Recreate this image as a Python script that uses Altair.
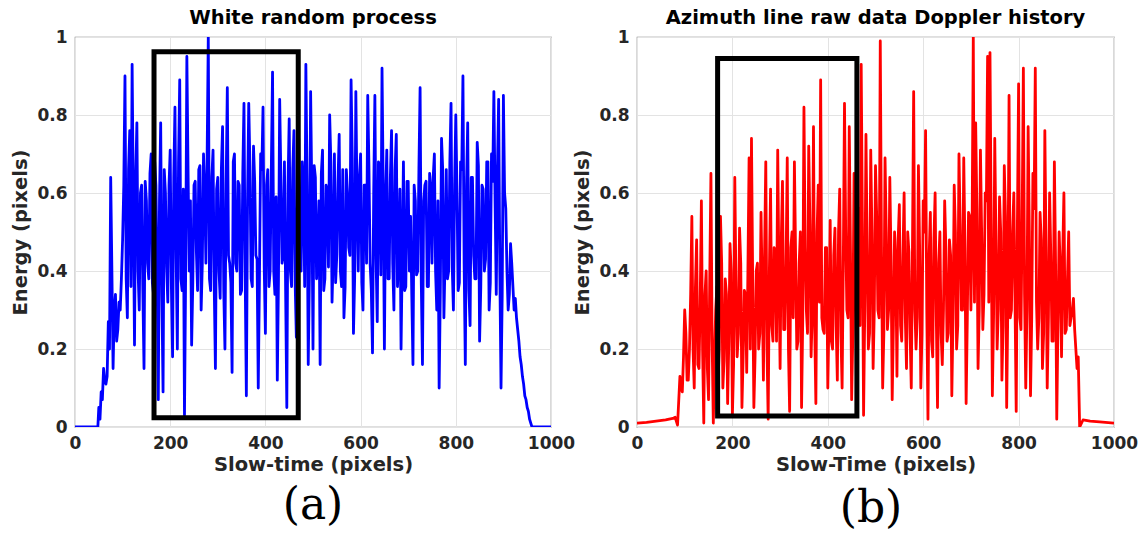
import altair as alt
import pandas as pd

# ---------------- data (hand-estimated from the reference) ----------------
# Panel (a): white random process.
# main samples at slow-time 50, 55, ..., 960
blue_main_x = list(range(50, 961, 5))
blue_main = [
    0.05, 0.09, 0.15, 0.11, 0.27, 0.64, 0.15, 0.34, 0.25, 0.30,
    0.48, 0.90, 0.28, 0.76, 0.93, 0.21, 0.78, 0.30, 0.62, 0.15,
    0.58, 0.38, 0.70, 0.34, 0.62, 0.07, 0.78, 0.09, 0.60, 0.32,
    0.71, 0.18, 0.82, 0.20, 0.89, 0.35, 0.03, 0.95, 0.40, 0.21,
    0.62, 0.45, 0.66, 0.30, 0.70, 0.42, 1.00, 0.35, 0.71, 0.15,
    0.64, 0.33, 0.77, 0.20, 0.87, 0.42, 0.14, 0.70, 0.40, 0.62,
    0.35, 0.83, 0.08, 0.83, 0.38, 0.72, 0.44, 0.10, 0.70, 0.82,
    0.24, 0.66, 0.40, 0.91, 0.34, 0.12, 0.84, 0.42, 0.68, 0.05,
    0.79, 0.36, 0.76, 0.23, 0.74, 0.40, 0.62, 0.93, 0.16, 0.86,
    0.20, 0.64, 0.45, 0.16, 0.71, 0.38, 0.60, 0.80, 0.32, 0.70,
    0.44, 0.75, 0.36, 0.28, 0.66, 0.46, 0.89, 0.24, 0.86, 0.40,
    0.70, 0.30, 0.62, 0.85, 0.42, 0.19, 0.85, 0.27, 0.66, 0.92,
    0.20, 0.71, 0.38, 0.76, 0.30, 0.75, 0.44, 0.20, 0.68, 0.36,
    0.63, 0.54, 0.16, 0.58, 0.40, 0.87, 0.16, 0.62, 0.36, 0.65,
    0.42, 0.70, 0.30, 0.10, 0.74, 0.28, 0.66, 0.40, 0.83, 0.30,
    0.80, 0.35, 0.68, 0.90, 0.16, 0.78, 0.26, 0.64, 0.38, 0.73,
    0.22, 0.62, 0.40, 0.68, 0.30, 0.70, 0.86, 0.34, 0.84, 0.10,
    0.85, 0.56, 0.30, 0.47, 0.36, 0.33, 0.25, 0.18, 0.13, 0.08,
    0.05, 0.02, 0.00]
# in-between samples at slow-time 52.5, 57.5, ..., 957.5
blue_half_x = [v + 2.5 for v in range(50, 960, 5)]
blue_half = [
    0.02, 0.07, 0.12, 0.13, 0.20, 0.40, 0.30, 0.22, 0.32, 0.38,
    0.62, 0.38, 0.66, 0.36, 0.58, 0.64, 0.40, 0.60, 0.35, 0.63,
    0.42, 0.65, 0.37, 0.68, 0.40, 0.58, 0.34, 0.66, 0.41, 0.62,
    0.36, 0.64, 0.44, 0.68, 0.38, 0.61, 0.40, 0.66, 0.58, 0.37,
    0.63, 0.35, 0.67, 0.42, 0.60, 0.68, 0.38, 0.64, 0.36, 0.61,
    0.40, 0.66, 0.35, 0.62, 0.44, 0.37, 0.68, 0.42, 0.63, 0.34,
    0.65, 0.39, 0.58, 0.67, 0.36, 0.63, 0.43, 0.38, 0.66, 0.41,
    0.62, 0.36, 0.67, 0.40, 0.59, 0.38, 0.64, 0.44, 0.35, 0.62,
    0.40, 0.66, 0.37, 0.61, 0.43, 0.68, 0.36, 0.63, 0.39, 0.60,
    0.67, 0.38, 0.58, 0.65, 0.35, 0.62, 0.41, 0.68, 0.44, 0.37,
    0.63, 0.40, 0.66, 0.36, 0.60, 0.44, 0.69, 0.38, 0.58, 0.64,
    0.37, 0.62, 0.42, 0.67, 0.35, 0.60, 0.43, 0.68, 0.39, 0.61,
    0.58, 0.38, 0.64, 0.42, 0.66, 0.36, 0.61, 0.44, 0.35, 0.63,
    0.40, 0.34, 0.62, 0.39, 0.66, 0.37, 0.58, 0.63, 0.36, 0.61,
    0.64, 0.40, 0.58, 0.35, 0.66, 0.43, 0.38, 0.68, 0.41, 0.62,
    0.60, 0.37, 0.66, 0.42, 0.62, 0.35, 0.64, 0.44, 0.38, 0.67,
    0.36, 0.61, 0.43, 0.68, 0.37, 0.63, 0.58, 0.66, 0.40, 0.34,
    0.60, 0.40, 0.34, 0.42, 0.30, 0.28, 0.22, 0.16, 0.11, 0.07,
    0.04, 0.01]
blue_lead_x, blue_lead = [0, 48], [0.0, 0.0]
blue_tail_x, blue_tail = [1000], [0.0]

# Panel (b): azimuth line raw data Doppler history.
red_lead_x = [0, 20, 40, 60, 75, 80, 85]
red_lead = [0.010, 0.012, 0.015, 0.018, 0.022, 0.025, 0.005]
red_main_x = list(range(90, 926, 5))
red_main = [
    0.13, 0.09, 0.30, 0.12, 0.20, 0.54, 0.10, 0.48, 0.15, 0.58,
    0.01, 0.40, 0.07, 0.65, 0.01, 0.30, 0.12, 0.54, 0.10, 0.38,
    0.06, 0.47, 0.03, 0.64, 0.18, 0.51, 0.05, 0.35, 0.14, 0.69,
    0.74, 0.05, 0.40, 0.20, 0.55, 0.12, 0.68, 0.02, 0.61, 0.22,
    0.45, 0.71, 0.15, 0.63, 0.25, 0.69, 0.04, 0.50, 0.68, 0.20,
    0.42, 0.05, 0.82, 0.30, 0.72, 0.18, 0.77, 0.06, 0.62, 0.89,
    0.25, 0.46, 0.10, 0.53, 0.20, 0.51, 0.12, 0.61, 0.10, 0.83,
    0.30, 0.77, 0.07, 0.65, 0.12, 0.56, 0.93, 0.03, 0.75, 0.20,
    0.71, 0.15, 0.67, 0.30, 0.99, 0.10, 0.69, 0.25, 0.64, 0.07,
    0.50, 0.13, 0.57, 0.22, 0.60, 0.15, 0.45, 0.10, 0.86, 0.20,
    0.67, 0.10, 0.58, 0.76, 0.02, 0.55, 0.18, 0.60, 0.05, 0.50,
    0.16, 0.58, 0.22, 0.48, 0.08, 0.62, 0.20, 0.70, 0.30, 0.69,
    0.06, 0.55, 0.30, 1.00, 0.78, 0.15, 0.71, 0.25, 0.60, 0.95,
    0.96, 0.08, 0.74, 0.20, 0.59, 0.12, 0.67, 0.05, 0.85, 0.30,
    0.60, 0.04, 0.88, 0.25, 0.92, 0.10, 0.77, 0.08, 0.65, 0.92,
    0.20, 0.55, 0.15, 0.76, 0.10, 0.60, 0.22, 0.68, 0.02, 0.50,
    0.18, 0.60, 0.25, 0.50, 0.28, 0.33, 0.20, 0.18]
red_half_x = [v + 2.5 for v in range(90, 925, 5)]
red_half = [
    0.10, 0.18, 0.24, 0.12, 0.34, 0.20, 0.36, 0.16, 0.32, 0.20,
    0.34, 0.15, 0.38, 0.22, 0.18, 0.36, 0.20, 0.42, 0.17, 0.34,
    0.22, 0.40, 0.16, 0.36, 0.24, 0.42, 0.18, 0.34, 0.40, 0.20,
    0.38, 0.18, 0.42, 0.24, 0.36, 0.45, 0.20, 0.40, 0.26, 0.46,
    0.22, 0.40, 0.48, 0.25, 0.42, 0.20, 0.46, 0.28, 0.44, 0.22,
    0.50, 0.28, 0.46, 0.24, 0.52, 0.30, 0.26, 0.50, 0.32, 0.28,
    0.24, 0.46, 0.28, 0.22, 0.44, 0.26, 0.50, 0.24, 0.42, 0.50,
    0.28, 0.45, 0.24, 0.48, 0.32, 0.26, 0.52, 0.30, 0.46, 0.24,
    0.50, 0.30, 0.54, 0.28, 0.46, 0.24, 0.50, 0.30, 0.44, 0.26,
    0.42, 0.48, 0.26, 0.44, 0.28, 0.50, 0.24, 0.46, 0.30, 0.28,
    0.46, 0.24, 0.50, 0.30, 0.44, 0.22, 0.48, 0.28, 0.42, 0.24,
    0.30, 0.46, 0.24, 0.44, 0.28, 0.50, 0.26, 0.52, 0.30, 0.46,
    0.28, 0.54, 0.50, 0.32, 0.56, 0.30, 0.50, 0.34, 0.58, 0.32,
    0.52, 0.28, 0.48, 0.30, 0.50, 0.26, 0.54, 0.32, 0.28, 0.50,
    0.32, 0.52, 0.28, 0.54, 0.34, 0.30, 0.50, 0.28, 0.56, 0.32,
    0.28, 0.48, 0.24, 0.46, 0.28, 0.44, 0.22, 0.42, 0.26, 0.40,
    0.44, 0.24, 0.38, 0.26, 0.30, 0.25, 0.15]
red_tail_x = [928, 935, 950, 970, 1000]
red_tail = [0.000, 0.018, 0.015, 0.013, 0.010]

titles = ["White random process", "Azimuth line raw data Doppler history"]
x_titles = ["Slow-time (pixels)", "Slow-Time (pixels)"]
y_title = "Energy (pixels)"
captions = ["(a)", "(b)"]
x_ticks = [0, 200, 400, 600, 800, 1000]
y_ticks = [0, 0.2, 0.4, 0.6, 0.8, 1]
# highlight boxes: [x, x2, y, y2] in data units
box_a = [166, 469, 0.024, 0.962]
box_b = [169, 461, 0.028, 0.945]

FONT = "DejaVu Sans"
W_A, W_B, H = 476, 477, 390


def series(lead_x, lead, main_x, main, half_x, half, tail_x, tail):
    xs, ys = list(lead_x), list(lead)
    for i in range(len(main_x)):
        xs.append(main_x[i]); ys.append(main[i])
        if i < len(half_x) and i < len(half):
            xs.append(half_x[i]); ys.append(half[i])
    xs += list(tail_x); ys += list(tail)
    return pd.DataFrame({"t": xs, "e": ys})


def panel(df, color, title, xtitle, box, caption, w, h, cap_xy):
    xenc = alt.X("t:Q", scale=alt.Scale(domain=[0, 1000], nice=False),
                 axis=alt.Axis(values=x_ticks, title=xtitle, format="d", labelFlush=False))
    yenc = alt.Y("e:Q", scale=alt.Scale(domain=[0, 1], nice=False),
                 axis=alt.Axis(values=y_ticks, title=y_title, format=".1~f", labelFlush=False))
    line = alt.Chart(df).mark_line(color=color, strokeWidth=2.8, strokeJoin="round",
                                   clip=True).encode(x=xenc, y=yenc, order="t:Q")
    bdf = pd.DataFrame({"x": [box[0]], "x2": [box[1]], "y": [box[2]], "y2": [box[3]]})
    rect = alt.Chart(bdf).mark_rect(filled=False, stroke="black", strokeWidth=5).encode(
        x="x:Q", x2="x2:Q", y="y:Q", y2="y2:Q")
    cdf = pd.DataFrame({"c": [caption]})
    cap = alt.Chart(cdf).mark_text(font="DejaVu Serif", fontSize=44, color="black",
                                   align="center", baseline="middle").encode(
        text="c:N", x=alt.value(cap_xy[0]), y=alt.value(cap_xy[1]))
    return alt.layer(line, rect, cap).properties(
        width=w, height=h,
        title=alt.TitleParams(title, font=FONT, fontSize=19.5, fontWeight="bold",
                              color="black", offset=0))


blue_df = series(blue_lead_x, blue_lead, blue_main_x, blue_main,
                 blue_half_x, blue_half, blue_tail_x, blue_tail)
red_df = series(red_lead_x, red_lead, red_main_x, red_main,
                red_half_x, red_half, red_tail_x, red_tail)

left = panel(blue_df, "#0000ff", titles[0], x_titles[0], box_a, captions[0], W_A, H, (238, 469))
right = panel(red_df, "#ff0000", titles[1], x_titles[1], box_b, captions[1], W_B, H, (234, 472))

chart = alt.hconcat(left, right, spacing=86, bounds="flush").properties(
    padding={"left": 10, "top": 6, "right": 0, "bottom": 0},
    background="white",
).configure_axis(
    labelFont=FONT, labelFontSize=17, labelFontWeight="bold", labelColor="#262626",
    titleFont=FONT, titleFontSize=19.5, titleFontWeight="bold", titleColor="#262626",
    grid=True, gridColor="#e3e3e3", domain=False, ticks=False, labelPadding=8,
).configure_axisX(titlePadding=4).configure_axisY(titlePadding=6).configure_view(
    stroke="#808080", strokeWidth=1.2
)

chart.save("out.html", embed_options={"renderer": "svg", "actions": False})
